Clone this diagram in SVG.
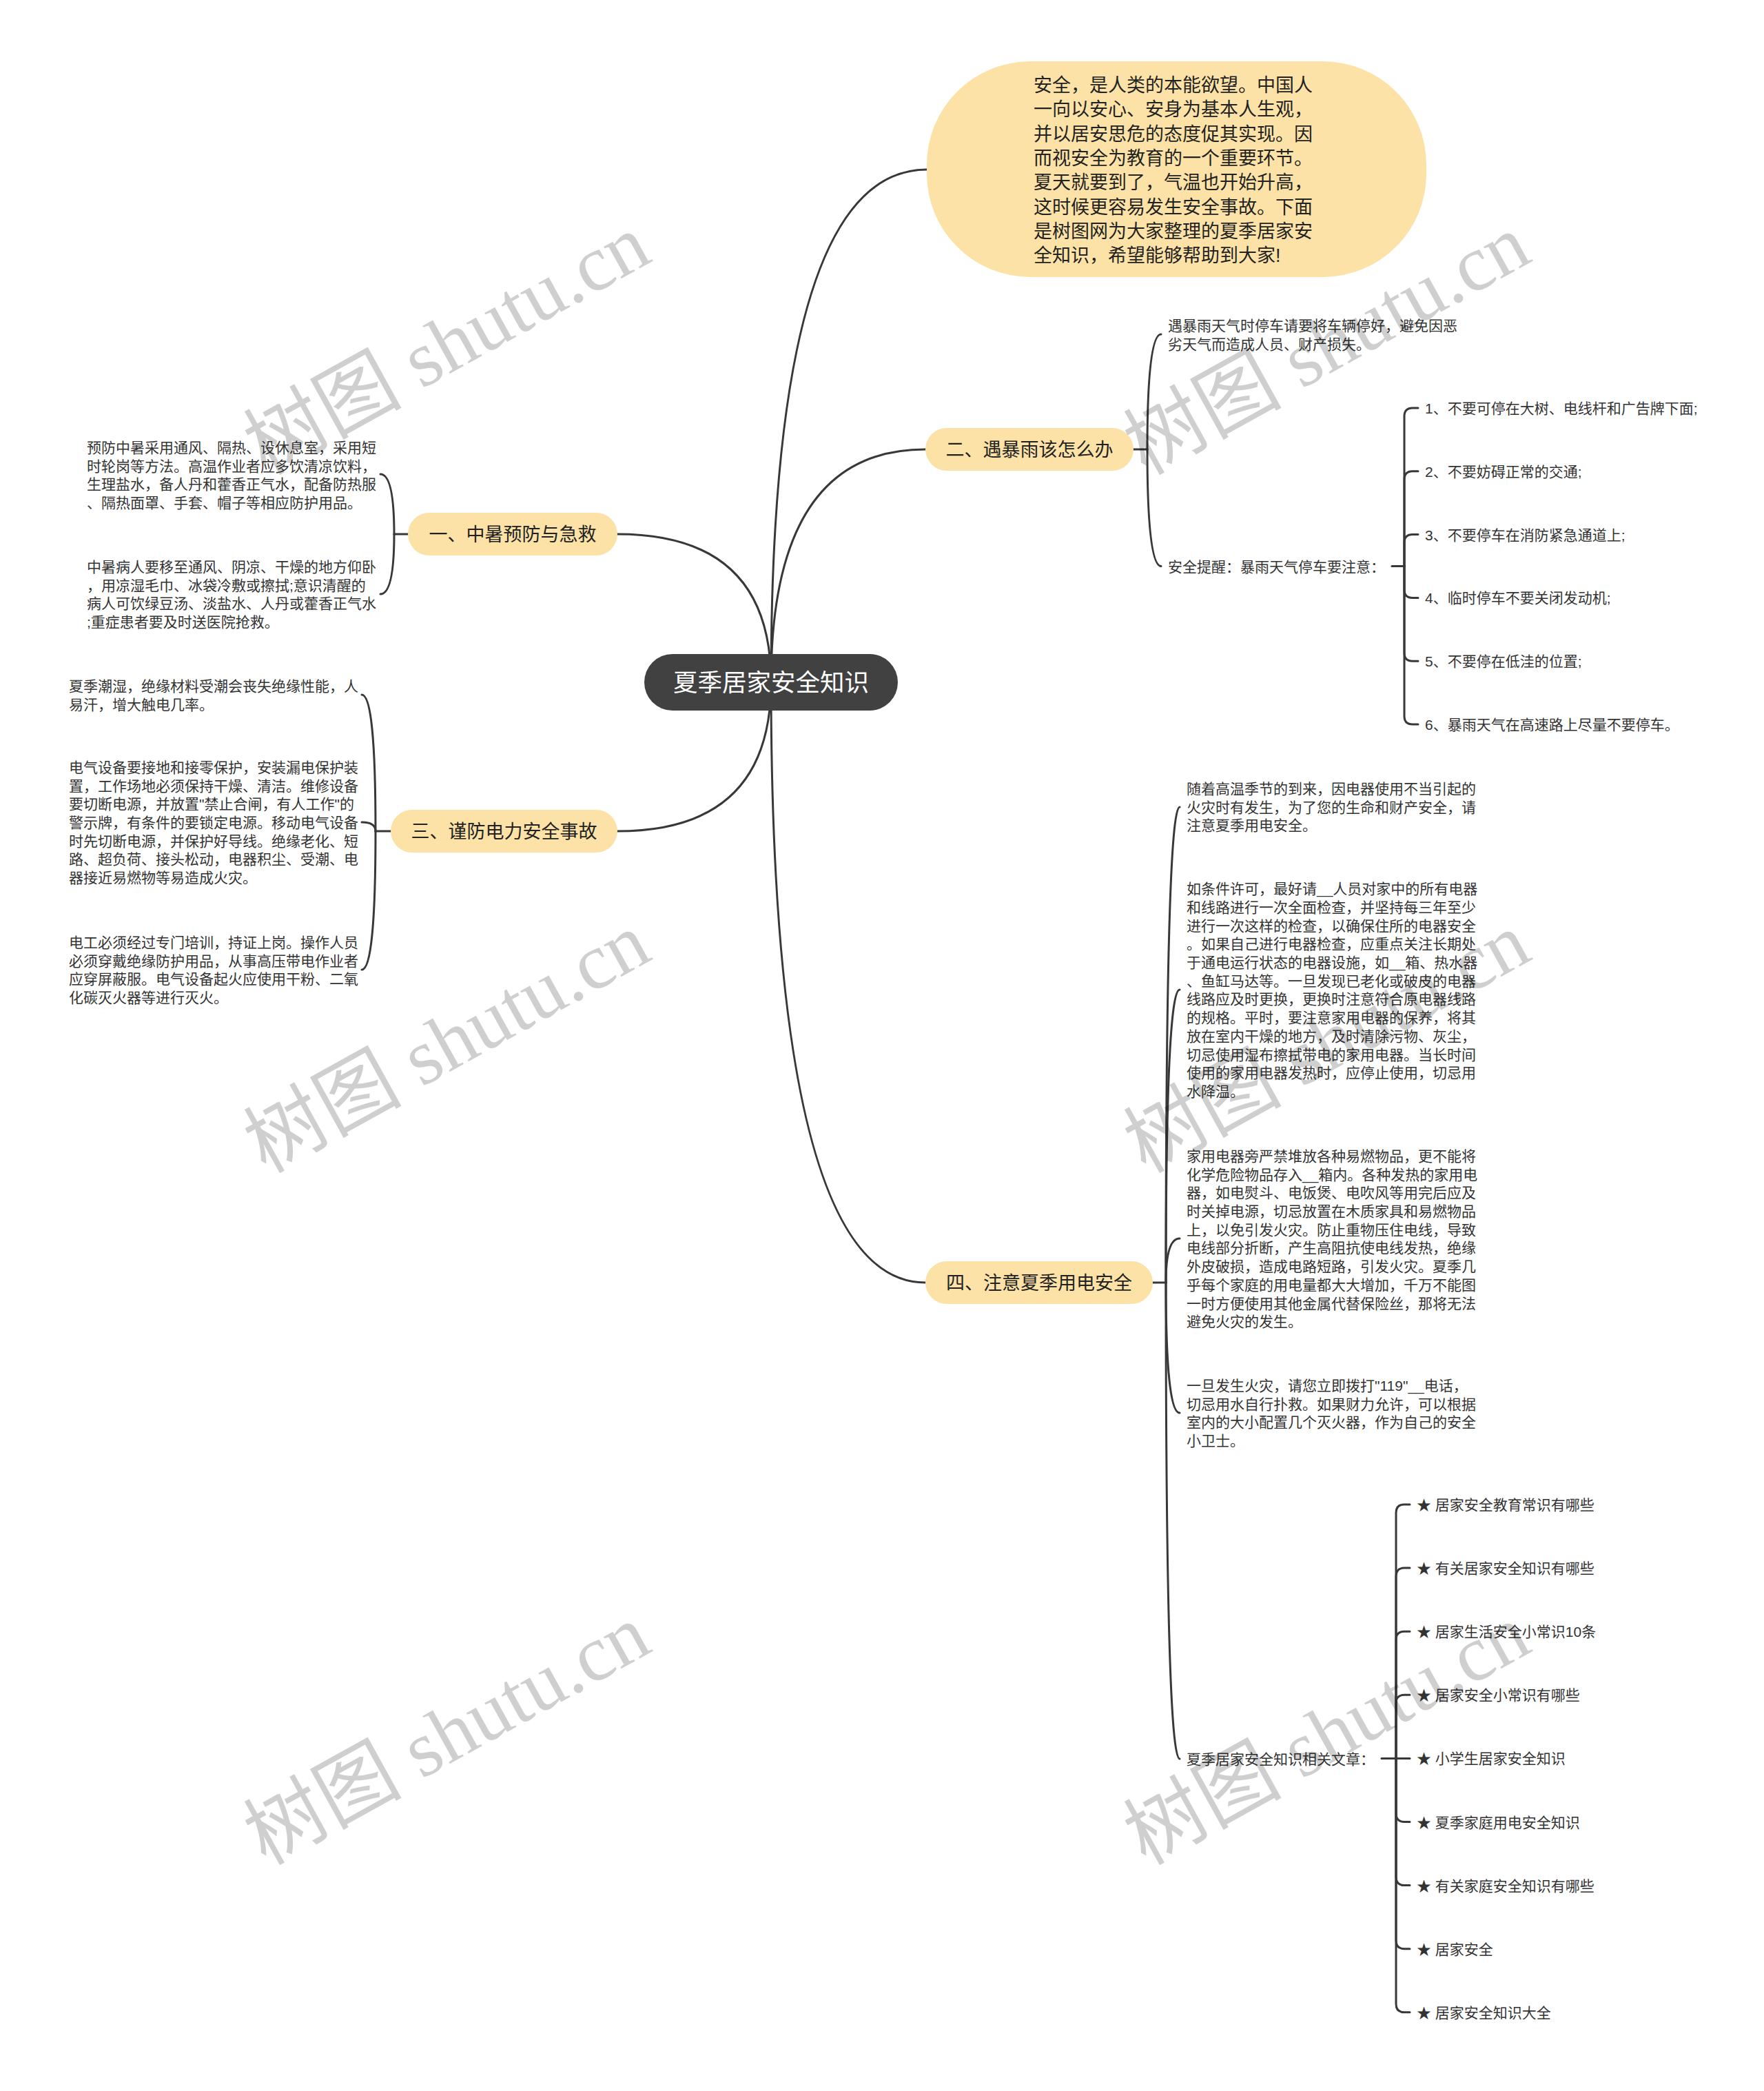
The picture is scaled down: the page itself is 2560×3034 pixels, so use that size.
<svg xmlns="http://www.w3.org/2000/svg" width="2560" height="3034" viewBox="0 0 2560 3034">
<style>
text{font-family:"Liberation Sans","Noto Sans CJK SC",sans-serif;}
.leaf{font-size:21px;fill:#333333;}
.branch{font-size:27px;fill:#222222;text-anchor:middle;}
.intro{font-size:27px;fill:#222222;}
.root{font-size:35.5px;fill:#ffffff;text-anchor:middle;}
.bnode{fill:#FCE2A6;}
.ln{fill:none;stroke:#383838;stroke-width:3;stroke-linecap:round;}
.wm{font-family:"Liberation Serif","Noto Sans CJK SC",serif;font-size:115px;fill:#000000;fill-opacity:0.19;text-anchor:middle;}
</style>
<rect width="2560" height="3034" fill="#ffffff"/>
<g id="connectors">
  <path class="ln" d="M1119,990 Q1119,246 1345,246"/>
  <path class="ln" d="M1119,990 Q1119,652 1343,652"/>
  <path class="ln" d="M1119,990 Q1119,775 896,775"/>
  <path class="ln" d="M1119,990 Q1119,1206 896,1206"/>
  <path class="ln" d="M1119,990 Q1119,1861 1343,1861"/>
  <!-- 一 -->
  <path class="ln" d="M592,775 L572,775"/>
  <path class="ln" d="M572,775 Q572,688 552,688"/>
  <path class="ln" d="M572,775 Q572,862 552,862"/>
  <!-- 三 -->
  <path class="ln" d="M567,1206 L545,1206"/>
  <path class="ln" d="M545,1206 Q545,1008 525,1008"/>
  <path class="ln" d="M545,1206 Q545,1193 525,1193"/>
  <path class="ln" d="M545,1206 Q545,1407 525,1407"/>
  <!-- 二 -->
  <path class="ln" d="M1645,652 L1665,652"/>
  <path class="ln" d="M1665,652 Q1665,485 1685,485"/>
  <path class="ln" d="M1665,652 Q1665,821.5 1685,821.5"/>
  <!-- numbered -->
  <path class="ln" d="M2020,821.5 L2038,821.5"/>
  <path class="ln" d="M2038,821.5 L2038,604 Q2038,592 2050,592 L2058,592"/>
  <path class="ln" d="M2038,821.5 L2038,695.8 Q2038,683.8 2050,683.8 L2058,683.8"/>
  <path class="ln" d="M2038,821.5 L2038,787.6 Q2038,775.6 2050,775.6 L2058,775.6"/>
  <path class="ln" d="M2038,821.5 L2038,855.4 Q2038,867.4 2050,867.4 L2058,867.4"/>
  <path class="ln" d="M2038,821.5 L2038,947.2 Q2038,959.2 2050,959.2 L2058,959.2"/>
  <path class="ln" d="M2038,821.5 L2038,1039 Q2038,1051 2050,1051 L2058,1051"/>
  <!-- 四 -->
  <path class="ln" d="M1673,1861 L1692,1861"/>
  <path class="ln" d="M1692,1861 Q1692,1171 1712,1171"/>
  <path class="ln" d="M1692,1861 Q1692,1436 1712,1436"/>
  <path class="ln" d="M1692,1861 Q1692,1797 1712,1797"/>
  <path class="ln" d="M1692,1861 Q1692,2050 1712,2050"/>
  <path class="ln" d="M1692,1861 Q1692,2552 1712,2552"/>
  <!-- related -->
  <path class="ln" d="M2005,2551.5 L2026,2551.5"/>
  <path class="ln" d="M2026,2551.5 L2026,2195 Q2026,2183 2038,2183 L2046,2183"/>
  <path class="ln" d="M2026,2551.5 L2026,2287.1 Q2026,2275.1 2038,2275.1 L2046,2275.1"/>
  <path class="ln" d="M2026,2551.5 L2026,2379.2 Q2026,2367.2 2038,2367.2 L2046,2367.2"/>
  <path class="ln" d="M2026,2551.5 L2026,2471.3 Q2026,2459.3 2038,2459.3 L2046,2459.3"/>
  <path class="ln" d="M2026,2551.5 L2046,2551.5"/>
  <path class="ln" d="M2026,2551.5 L2026,2631.5 Q2026,2643.5 2038,2643.5 L2046,2643.5"/>
  <path class="ln" d="M2026,2551.5 L2026,2723.6 Q2026,2735.6 2038,2735.6 L2046,2735.6"/>
  <path class="ln" d="M2026,2551.5 L2026,2815.7 Q2026,2827.7 2038,2827.7 L2046,2827.7"/>
  <path class="ln" d="M2026,2551.5 L2026,2907.8 Q2026,2919.8 2038,2919.8 L2046,2919.8"/>
</g>
<g id="root">
  <rect x="935" y="949" width="368" height="82" rx="41" fill="#414141"/>
  <text class="root" x="1119" y="1003">夏季居家安全知识</text>
</g>
<g id="intro">
  <rect x="1345" y="89" width="725" height="313" rx="150" ry="150" fill="#FCE2A6"/>
  <text class="intro">
    <tspan x="1500" y="133">安全，是人类的本能欲望。中国人</tspan>
    <tspan x="1500" y="168.3">一向以安心、安身为基本人生观，</tspan>
    <tspan x="1500" y="203.6">并以居安思危的态度促其实现。因</tspan>
    <tspan x="1500" y="238.9">而视安全为教育的一个重要环节。</tspan>
    <tspan x="1500" y="274.2">夏天就要到了，气温也开始升高，</tspan>
    <tspan x="1500" y="309.5">这时候更容易发生安全事故。下面</tspan>
    <tspan x="1500" y="344.8">是树图网为大家整理的夏季居家安</tspan>
    <tspan x="1500" y="380">全知识，希望能够帮助到大家!</tspan>
  </text>
</g>
<g id="branch-2">
  <rect class="bnode" x="1343" y="621" width="302" height="62" rx="31"/>
  <text class="branch" x="1494" y="662">二、遇暴雨该怎么办</text>
</g>
<g id="b2-c1">
  <text class="leaf">
    <tspan x="1695" y="480">遇暴雨天气时停车请要将车辆停好，避免因恶</tspan>
    <tspan x="1695" y="506.7">劣天气而造成人员、财产损失。</tspan>
  </text>
</g>
<g id="b2-c2"><text class="leaf" x="1695" y="829.5">安全提醒：暴雨天气停车要注意：</text></g>
<g id="b2-n1"><text class="leaf" x="2068" y="600">1、不要可停在大树、电线杆和广告牌下面;</text></g>
<g id="b2-n2"><text class="leaf" x="2068" y="691.8">2、不要妨碍正常的交通;</text></g>
<g id="b2-n3"><text class="leaf" x="2068" y="783.6">3、不要停车在消防紧急通道上;</text></g>
<g id="b2-n4"><text class="leaf" x="2068" y="875.4">4、临时停车不要关闭发动机;</text></g>
<g id="b2-n5"><text class="leaf" x="2068" y="967.2">5、不要停在低洼的位置;</text></g>
<g id="b2-n6"><text class="leaf" x="2068" y="1059">6、暴雨天气在高速路上尽量不要停车。</text></g>
<g id="branch-1">
  <rect class="bnode" x="592" y="744" width="304" height="62" rx="31"/>
  <text class="branch" x="744" y="785">一、中暑预防与急救</text>
</g>
<g id="b1-c1">
  <text class="leaf">
    <tspan x="126" y="657">预防中暑采用通风、隔热、设休息室，采用短</tspan>
    <tspan x="126" y="683.5">时轮岗等方法。高温作业者应多饮清凉饮料，</tspan>
    <tspan x="126" y="710">生理盐水，备人丹和藿香正气水，配备防热服</tspan>
    <tspan x="126" y="737">、隔热面罩、手套、帽子等相应防护用品。</tspan>
  </text>
</g>
<g id="b1-c2">
  <text class="leaf">
    <tspan x="126" y="830">中暑病人要移至通风、阴凉、干燥的地方仰卧</tspan>
    <tspan x="126" y="856.5">，用凉湿毛巾、冰袋冷敷或擦拭;意识清醒的</tspan>
    <tspan x="126" y="883">病人可饮绿豆汤、淡盐水、人丹或藿香正气水</tspan>
    <tspan x="126" y="910">;重症患者要及时送医院抢救。</tspan>
  </text>
</g>
<g id="branch-3">
  <rect class="bnode" x="567" y="1175" width="329" height="62" rx="31"/>
  <text class="branch" x="731.5" y="1216">三、谨防电力安全事故</text>
</g>
<g id="b3-c1">
  <text class="leaf">
    <tspan x="100" y="1003">夏季潮湿，绝缘材料受潮会丧失绝缘性能，人</tspan>
    <tspan x="100" y="1030">易汗，增大触电几率。</tspan>
  </text>
</g>
<g id="b3-c2">
  <text class="leaf">
    <tspan x="100" y="1121">电气设备要接地和接零保护，安装漏电保护装</tspan>
    <tspan x="100" y="1147.7">置，工作场地必须保持干燥、清洁。维修设备</tspan>
    <tspan x="100" y="1174.3">要切断电源，并放置"禁止合闸，有人工作"的</tspan>
    <tspan x="100" y="1201">警示牌，有条件的要锁定电源。移动电气设备</tspan>
    <tspan x="100" y="1227.7">时先切断电源，并保护好导线。绝缘老化、短</tspan>
    <tspan x="100" y="1254.3">路、超负荷、接头松动，电器积尘、受潮、电</tspan>
    <tspan x="100" y="1281">器接近易燃物等易造成火灾。</tspan>
  </text>
</g>
<g id="b3-c3">
  <text class="leaf">
    <tspan x="100" y="1375">电工必须经过专门培训，持证上岗。操作人员</tspan>
    <tspan x="100" y="1401.7">必须穿戴绝缘防护用品，从事高压带电作业者</tspan>
    <tspan x="100" y="1428.3">应穿屏蔽服。电气设备起火应使用干粉、二氧</tspan>
    <tspan x="100" y="1455">化碳灭火器等进行灭火。</tspan>
  </text>
</g>
<g id="branch-4">
  <rect class="bnode" x="1343" y="1830" width="330" height="62" rx="31"/>
  <text class="branch" x="1508" y="1871">四、注意夏季用电安全</text>
</g>
<g id="b4-c1">
  <text class="leaf">
    <tspan x="1722" y="1152">随着高温季节的到来，因电器使用不当引起的</tspan>
    <tspan x="1722" y="1178.7">火灾时有发生，为了您的生命和财产安全，请</tspan>
    <tspan x="1722" y="1205.4">注意夏季用电安全。</tspan>
  </text>
</g>
<g id="b4-c2">
  <text class="leaf">
    <tspan x="1722" y="1297.2">如条件许可，最好请__人员对家中的所有电器</tspan>
    <tspan x="1722" y="1323.9">和线路进行一次全面检查，并坚持每三年至少</tspan>
    <tspan x="1722" y="1350.6">进行一次这样的检查，以确保住所的电器安全</tspan>
    <tspan x="1722" y="1377.3">。如果自己进行电器检查，应重点关注长期处</tspan>
    <tspan x="1722" y="1404">于通电运行状态的电器设施，如__箱、热水器</tspan>
    <tspan x="1722" y="1430.7">、鱼缸马达等。一旦发现已老化或破皮的电器</tspan>
    <tspan x="1722" y="1457.4">线路应及时更换，更换时注意符合原电器线路</tspan>
    <tspan x="1722" y="1484.1">的规格。平时，要注意家用电器的保养，将其</tspan>
    <tspan x="1722" y="1510.8">放在室内干燥的地方，及时清除污物、灰尘，</tspan>
    <tspan x="1722" y="1537.5">切忌使用湿布擦拭带电的家用电器。当长时间</tspan>
    <tspan x="1722" y="1564.2">使用的家用电器发热时，应停止使用，切忌用</tspan>
    <tspan x="1722" y="1590.9">水降温。</tspan>
  </text>
</g>
<g id="b4-c3">
  <text class="leaf">
    <tspan x="1722" y="1684.9">家用电器旁严禁堆放各种易燃物品，更不能将</tspan>
    <tspan x="1722" y="1711.6">化学危险物品存入__箱内。各种发热的家用电</tspan>
    <tspan x="1722" y="1738.3">器，如电熨斗、电饭煲、电吹风等用完后应及</tspan>
    <tspan x="1722" y="1765">时关掉电源，切忌放置在木质家具和易燃物品</tspan>
    <tspan x="1722" y="1791.7">上，以免引发火灾。防止重物压住电线，导致</tspan>
    <tspan x="1722" y="1818.4">电线部分折断，产生高阻抗使电线发热，绝缘</tspan>
    <tspan x="1722" y="1845.1">外皮破损，造成电路短路，引发火灾。夏季几</tspan>
    <tspan x="1722" y="1871.8">乎每个家庭的用电量都大大增加，千万不能图</tspan>
    <tspan x="1722" y="1898.5">一时方便使用其他金属代替保险丝，那将无法</tspan>
    <tspan x="1722" y="1925.2">避免火灾的发生。</tspan>
  </text>
</g>
<g id="b4-c4">
  <text class="leaf">
    <tspan x="1722" y="2018">一旦发生火灾，请您立即拨打"119"__电话，</tspan>
    <tspan x="1722" y="2044.7">切忌用水自行扑救。如果财力允许，可以根据</tspan>
    <tspan x="1722" y="2071.4">室内的大小配置几个灭火器，作为自己的安全</tspan>
    <tspan x="1722" y="2098.1">小卫士。</tspan>
  </text>
</g>
<g id="b4-c5"><text class="leaf" x="1722" y="2559.5">夏季居家安全知识相关文章：</text></g>
<g id="r1"><text class="leaf" x="2056" y="2191">★ 居家安全教育常识有哪些</text></g>
<g id="r2"><text class="leaf" x="2056" y="2283.1">★ 有关居家安全知识有哪些</text></g>
<g id="r3"><text class="leaf" x="2056" y="2375.2">★ 居家生活安全小常识10条</text></g>
<g id="r4"><text class="leaf" x="2056" y="2467.3">★ 居家安全小常识有哪些</text></g>
<g id="r5"><text class="leaf" x="2056" y="2559.4">★ 小学生居家安全知识</text></g>
<g id="r6"><text class="leaf" x="2056" y="2651.5">★ 夏季家庭用电安全知识</text></g>
<g id="r7"><text class="leaf" x="2056" y="2743.6">★ 有关家庭安全知识有哪些</text></g>
<g id="r8"><text class="leaf" x="2056" y="2835.7">★ 居家安全</text></g>
<g id="r9"><text class="leaf" x="2056" y="2927.8">★ 居家安全知识大全</text></g>
<g id="watermarks">
  <text class="wm" x="648" y="539" transform="rotate(-29 648 499)">树图 shutu.cn</text>
  <text class="wm" x="648" y="1552" transform="rotate(-29 648 1512)">树图 shutu.cn</text>
  <text class="wm" x="648" y="2556" transform="rotate(-29 648 2516)">树图 shutu.cn</text>
  <text class="wm" x="1925" y="539" transform="rotate(-29 1925 499)">树图 shutu.cn</text>
  <text class="wm" x="1925" y="1552" transform="rotate(-29 1925 1512)">树图 shutu.cn</text>
  <text class="wm" x="1925" y="2556" transform="rotate(-29 1925 2516)">树图 shutu.cn</text>
</g>
</svg>
